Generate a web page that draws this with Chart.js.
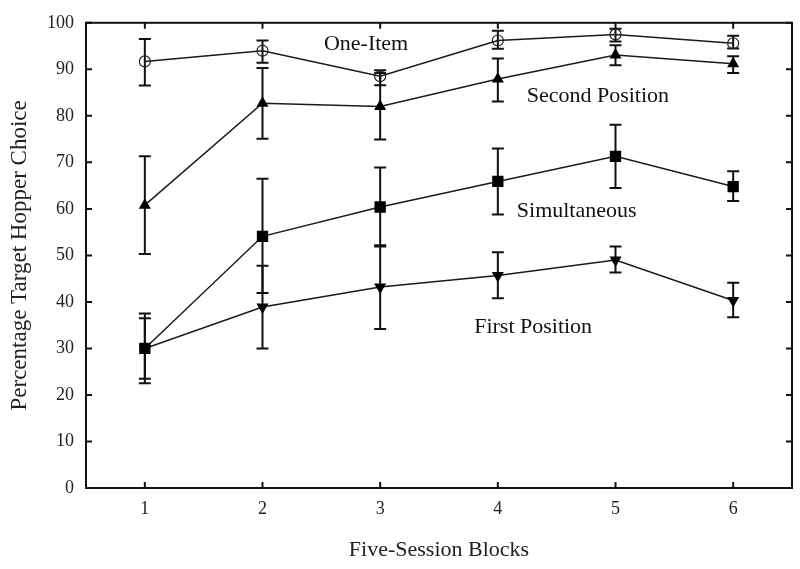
<!DOCTYPE html>
<html>
<head>
<meta charset="utf-8">
<script src="https://cdn.jsdelivr.net/npm/chart.js@4/dist/chart.umd.min.js"></script>
<style>
  html, body { margin: 0; padding: 0; background: #fff; }
  canvas { display: block; }
</style>
</head>
<body>
<canvas id="hopperChart" width="800" height="569"></canvas>
<script>
// ---- data ----
const blocks = [1, 2, 3, 4, 5, 6];
const yTicks = [0, 10, 20, 30, 40, 50, 60, 70, 80, 90, 100];

const oneItem   = [91.7, 94.0, 88.5, 96.2, 97.5, 95.6];
const oneItemHi = [96.5, 96.2, 89.8, 98.3, 98.7, 97.2];
const oneItemLo = [86.5, 91.4, 86.6, 94.4, 96.0, 94.5];

const secondPos   = [60.8, 82.7, 82.0, 87.9, 93.1, 91.2];
const secondPosHi = [71.3, 90.3, 89.2, 92.3, 95.2, 92.8];
const secondPosLo = [50.3, 75.1, 74.9, 83.1, 90.9, 89.2];

const simult   = [30.0, 54.1, 60.4, 65.9, 71.3, 64.8];
const simultHi = [37.5, 66.5, 68.9, 73.0, 78.1, 68.1];
const simultLo = [22.5, 41.9, 51.9, 58.8, 64.5, 61.7];

const firstPos   = [30.0, 38.9, 43.2, 45.7, 49.0, 40.3];
const firstPosHi = [36.5, 47.8, 52.2, 50.7, 51.9, 44.1];
const firstPosLo = [23.5, 30.0, 34.2, 40.8, 46.3, 36.7];

// series labels drawn inside the plot (data coords)
const seriesLabels = ['One-Item', 'Second Position', 'Simultaneous', 'First Position'];
const labelX = [2.88, 4.85, 4.67, 4.30];
const labelY = [95.5, 84.3, 59.4, 34.6];

const SERIF = '"Liberation Serif", "DejaVu Serif", serif';

function pts(ys) {
  return blocks.map((b, i) => ({ x: b, y: ys[i] }));
}

// ================== error bars ==================
const errorBars = {
  id: 'errorBars',
  beforeDatasetsDraw(chart) {
    const { ctx, scales: { x, y } } = chart;
    ctx.save();
    ctx.strokeStyle = '#111';
    ctx.lineWidth = 2;
    chart.data.datasets.forEach(ds => {
      ds.data.forEach((p, i) => {
        const px = x.getPixelForValue(p.x);
        const top = y.getPixelForValue(ds.errHi[i]);
        const bot = y.getPixelForValue(ds.errLo[i]);
        ctx.beginPath();
        ctx.moveTo(px, top); ctx.lineTo(px, bot);
        ctx.moveTo(px - 6, top); ctx.lineTo(px + 6, top);
        ctx.moveTo(px - 6, bot); ctx.lineTo(px + 6, bot);
        ctx.stroke();
      });
    });
    ctx.restore();
  }
};

// ================== frame, inward ticks, labels ==================
const frame = {
  id: 'frame',
  afterDatasetsDraw(chart) {
    const { ctx, chartArea: a, scales: { x, y } } = chart;
    ctx.save();
    ctx.strokeStyle = '#111';
    ctx.lineWidth = 2;
    ctx.strokeRect(a.left, a.top, a.right - a.left, a.bottom - a.top);
    ctx.beginPath();
    blocks.forEach(b => {
      const px = x.getPixelForValue(b);
      ctx.moveTo(px, a.bottom); ctx.lineTo(px, a.bottom - 6);
      ctx.moveTo(px, a.top); ctx.lineTo(px, a.top + 6);
    });
    yTicks.forEach(v => {
      const py = y.getPixelForValue(v);
      ctx.moveTo(a.left, py); ctx.lineTo(a.left + 6, py);
      ctx.moveTo(a.right, py); ctx.lineTo(a.right - 6, py);
    });
    ctx.stroke();

    ctx.fillStyle = '#111';
    ctx.font = '22px ' + SERIF;
    ctx.textAlign = 'center';
    ctx.textBaseline = 'middle';
    seriesLabels.forEach((t, i) => {
      ctx.fillText(t, x.getPixelForValue(labelX[i]), y.getPixelForValue(labelY[i]));
    });
    ctx.restore();
  }
};

const lineStyle = {
  borderColor: '#1a1a1a',
  borderWidth: 1.5,
  fill: false,
  tension: 0
};

new Chart(document.getElementById('hopperChart'), {
  type: 'line',
  data: {
    datasets: [
      Object.assign({
        label: 'One-Item', data: pts(oneItem), errHi: oneItemHi, errLo: oneItemLo,
        pointStyle: 'circle', pointRadius: 5.5, pointBorderWidth: 1.2,
        pointBackgroundColor: 'rgba(0,0,0,0)', pointBorderColor: '#222'
      }, lineStyle),
      Object.assign({
        label: 'Second Position', data: pts(secondPos), errHi: secondPosHi, errLo: secondPosLo,
        pointStyle: 'triangle', pointRadius: 7, pointBorderWidth: 0,
        pointBackgroundColor: '#000', pointBorderColor: '#000'
      }, lineStyle),
      Object.assign({
        label: 'Simultaneous', data: pts(simult), errHi: simultHi, errLo: simultLo,
        pointStyle: 'rect', pointRadius: 8, pointBorderWidth: 0,
        pointBackgroundColor: '#000', pointBorderColor: '#000'
      }, lineStyle),
      Object.assign({
        label: 'First Position', data: pts(firstPos), errHi: firstPosHi, errLo: firstPosLo,
        pointStyle: 'triangle', rotation: 180, pointRadius: 7, pointBorderWidth: 0,
        pointBackgroundColor: '#000', pointBorderColor: '#000'
      }, lineStyle)
    ]
  },
  options: {
    responsive: false,
    animation: false,
    layout: { padding: { left: 0, right: 8, top: 17, bottom: 0 } },
    plugins: {
      legend: { display: false },
      tooltip: { enabled: false }
    },
    scales: {
      x: {
        type: 'linear',
        min: 0.5,
        max: 6.5,
        afterBuildTicks(scale) { scale.ticks = blocks.map(v => ({ value: v })); },
        afterFit(scale) { scale.height = 81; },
        grid: { display: false, drawTicks: false },
        border: { display: false },
        ticks: { color: '#222', padding: 10, font: { family: SERIF, size: 18 } },
        title: {
          display: true, text: 'Five-Session Blocks', color: '#222',
          font: { family: SERIF, size: 22 }, padding: { top: 0, bottom: 6 }
        }
      },
      y: {
        min: 0,
        max: 100,
        afterBuildTicks(scale) { scale.ticks = yTicks.map(v => ({ value: v })); },
        afterFit(scale) { scale.width = 86; },
        grid: { display: false, drawTicks: false },
        border: { display: false },
        ticks: { color: '#222', padding: 12, font: { family: SERIF, size: 18 } },
        title: {
          display: true, text: 'Percentage Target Hopper Choice', color: '#222',
          font: { family: SERIF, size: 23 }, padding: { top: 6, bottom: 0 }
        }
      }
    }
  },
  plugins: [errorBars, frame]
});
</script>
</body>
</html>
